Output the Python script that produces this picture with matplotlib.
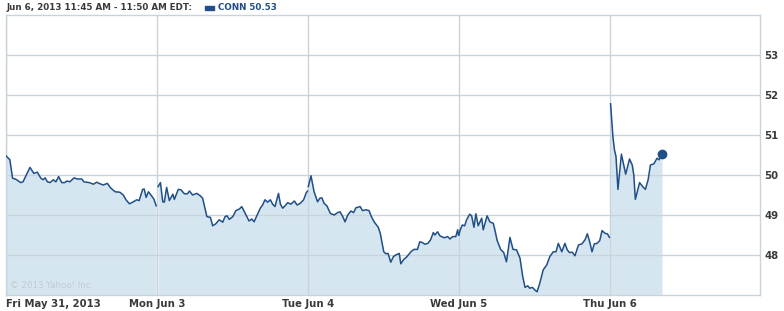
import numpy as np
import matplotlib.pyplot as plt
from matplotlib.patches import Rectangle

# CONN intraday, 5-day view (minutes after 9:30 open, price)
fri_min = [0, 10, 17, 26, 38, 44, 62, 72, 81, 90, 96, 101, 107, 114, 122, 129, 136, 144, 152, 157,
           165, 176, 184, 196, 201, 215, 226, 234, 243, 251, 262, 270, 282, 294, 303, 310, 319, 329,
           338, 344, 353, 357, 362, 368, 376, 382, 388]
fri_px = [50.48, 50.38, 49.92, 49.89, 49.81, 49.83, 50.19, 50.04, 50.07, 49.92, 49.88, 49.93, 49.83,
          49.81, 49.88, 49.83, 49.96, 49.81, 49.81, 49.85, 49.83, 49.93, 49.90, 49.90, 49.83, 49.81,
          49.77, 49.82, 49.78, 49.75, 49.79, 49.68, 49.58, 49.57, 49.50, 49.38, 49.28, 49.33, 49.38,
          49.36, 49.64, 49.65, 49.44, 49.58, 49.48, 49.40, 49.23]

mon_min = [3, 9, 15, 19, 25, 32, 41, 45, 55, 62, 71, 79, 84, 92, 103, 112, 118, 129, 138, 144,
           152, 161, 170, 176, 181, 187, 196, 204, 213, 219, 227, 238, 245, 251, 258, 267, 273, 279,
           286, 293, 299, 305, 314, 319, 325, 331, 338, 346, 355, 362, 370, 379, 385, 389]
mon_px = [49.71, 49.81, 49.33, 49.32, 49.69, 49.36, 49.52, 49.39, 49.64, 49.63, 49.53, 49.53, 49.60,
          49.50, 49.54, 49.48, 49.42, 48.96, 48.94, 48.73, 48.78, 48.88, 48.82, 48.96, 48.98, 48.89,
          48.96, 49.11, 49.15, 49.21, 49.06, 48.85, 48.90, 48.83, 48.98, 49.17, 49.25, 49.38, 49.32,
          49.38, 49.27, 49.21, 49.54, 49.27, 49.17, 49.23, 49.31, 49.27, 49.35, 49.25, 49.29, 49.38,
          49.54, 49.60]

tue_min = [1, 8, 16, 25, 31, 36, 42, 49, 58, 68, 77, 83, 90, 96, 103, 111, 118, 124, 135, 141,
           150, 158, 163, 171, 182, 187, 196, 202, 207, 214, 221, 227, 236, 240, 247, 256, 266, 274,
           283, 289, 296, 302, 310, 317, 324, 328, 335, 341, 352, 361, 367, 374, 382, 387, 389]
tue_px = [49.71, 49.98, 49.58, 49.33, 49.42, 49.43, 49.29, 49.23, 49.04, 49.00, 49.06, 49.08, 48.96,
          48.83, 49.00, 49.10, 49.06, 49.18, 49.21, 49.11, 49.13, 49.11, 48.98, 48.83, 48.69, 48.54,
          48.08, 48.03, 48.04, 47.82, 47.96, 48.00, 48.04, 47.78, 47.88, 47.96, 48.08, 48.14, 48.14,
          48.33, 48.31, 48.27, 48.29, 48.38, 48.56, 48.50, 48.58, 48.48, 48.43, 48.46, 48.40, 48.46,
          48.46, 48.63, 48.50]

wed_min = [0, 4, 9, 15, 20, 28, 33, 39, 44, 50, 59, 63, 73, 80, 89, 93, 99, 108, 116, 123,
           132, 140, 149, 158, 165, 171, 178, 183, 190, 196, 202, 209, 218, 227, 235, 244, 251, 257,
           266, 274, 280, 286, 293, 300, 309, 318, 326, 332, 338, 344, 350, 357, 364, 370, 378, 384, 389]
wed_px = [48.50, 48.64, 48.75, 48.73, 48.88, 49.02, 48.98, 48.69, 49.03, 48.73, 48.92, 48.63, 48.98,
          48.83, 48.79, 48.63, 48.36, 48.14, 48.06, 47.83, 48.44, 48.14, 48.13, 47.92, 47.46, 47.19,
          47.23, 47.17, 47.19, 47.13, 47.08, 47.29, 47.63, 47.75, 47.96, 48.08, 48.08, 48.29, 48.08,
          48.29, 48.13, 48.06, 48.07, 47.98, 48.25, 48.28, 48.38, 48.53, 48.33, 48.08, 48.28, 48.29,
          48.36, 48.61, 48.54, 48.53, 48.44]

thu_min = [2, 8, 12, 16, 21, 30, 41, 51, 58, 62, 66, 77, 85, 92, 99, 105, 114, 122, 127, 135]
thu_px = [51.78, 50.96, 50.63, 50.46, 49.64, 50.52, 50.02, 50.40, 50.25, 50.00, 49.39, 49.81, 49.71,
          49.64, 49.88, 50.25, 50.28, 50.42, 50.38, 50.53]

day_labels = ['Fri May 31, 2013', 'Mon Jun 3', 'Tue Jun 4', 'Wed Jun 5', 'Thu Jun 6']
y_ticks = [48, 49, 50, 51, 52, 53]
session_len = 390.0

line_c = '#1f4f86'
fill_c = '#d6e6f1'
grid_c = '#c8d3dc'
text_c = '#3a3a3a'

fig = plt.figure(figsize=(7.84, 3.11), dpi=100)
ax = fig.add_axes([6 / 784, 1 - 295 / 311, 754 / 784, 280 / 311])

days = [(fri_min, fri_px), (mon_min, mon_px), (tue_min, tue_px), (wed_min, wed_px), (thu_min, thu_px)]
for i, (mins, px) in enumerate(days):
    x = i + np.array(mins) / session_len
    ax.fill_between(x, px, 47, color=fill_c, lw=0, zorder=1)
    ax.plot(x, px, color=line_c, lw=1.1, zorder=3)

# last trade dot
ax.plot(4 + thu_min[-1] / session_len, thu_px[-1], 'o', color=line_c, ms=6, zorder=4)

ax.set_xlim(0, 4.995)
ax.set_ylim(47, 54)
ax.set_xticks(range(5))
ax.set_xticklabels(day_labels)
ax.get_xticklabels()[0].set_ha('left')
ax.set_yticks(y_ticks)
ax.yaxis.tick_right()
ax.tick_params(length=0, colors=text_c, labelsize=7.3)
ax.tick_params(axis='x', pad=3)
ax.tick_params(axis='y', pad=3)
for lab in ax.get_xticklabels() + ax.get_yticklabels():
    lab.set_fontweight('bold')

ax.set_axisbelow('line')
ax.grid(True, color=grid_c, lw=1)
for s in ax.spines.values():
    s.set_color(grid_c)
    s.set_linewidth(1)

ax.text(0.005, 0.018, '\u00a9 2013 Yahoo! Inc.', transform=ax.transAxes, fontsize=6.2,
        color='#bfcad3', va='bottom', ha='left', zorder=5)

# header
fig.text(7 / 784, 1 - 8 / 311, 'Jun 6, 2013 11:45 AM - 11:50 AM EDT:', fontsize=6.3,
         fontweight='bold', color=text_c, va='center', ha='left')
fig.patches.append(Rectangle((205 / 784, 1 - 10 / 311), 9 / 784, 4 / 311,
                             transform=fig.transFigure, color=line_c, figure=fig))
fig.text(218 / 784, 1 - 8 / 311, 'CONN 50.53', fontsize=6.3, fontweight='bold',
         color=line_c, va='center', ha='left')

fig.savefig('out.png', dpi=100)
